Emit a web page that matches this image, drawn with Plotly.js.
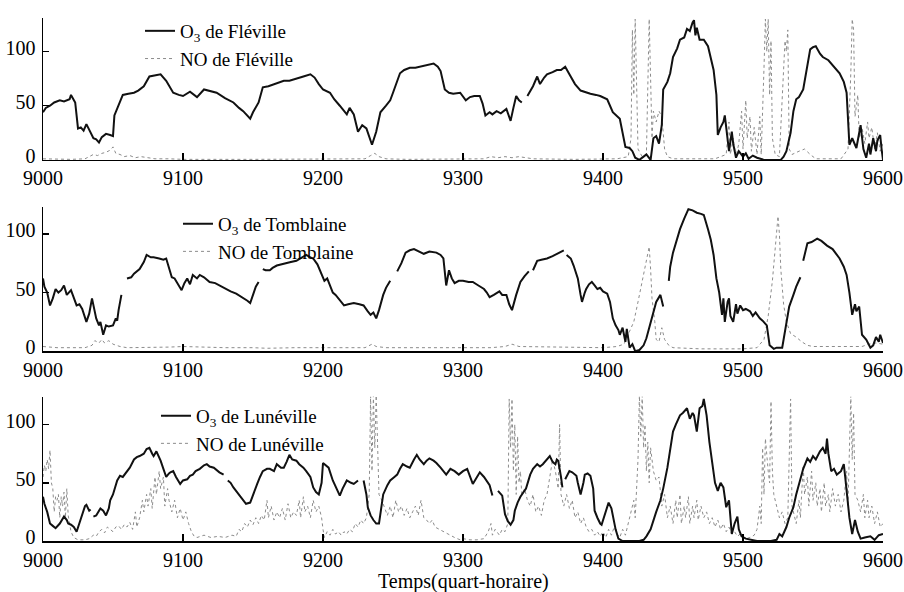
<!DOCTYPE html>
<html><head><meta charset="utf-8">
<script src="https://cdn.plot.ly/plotly-3.0.1.min.js"></script>
<style>body{margin:0;background:#fff}#c{width:904px;height:592px}</style>
</head><body><div id="c"></div>
<script>
// ---------- DATA ----------
const o3FlevX = [9000,9002,9005,9008,9012,9015,9019,9020,9023,9025,9027,9029,9031,9034,9036,9038,9040,9042,9045,9048,9050,9051,9054,9057,9061,9065,9068,9072,9076,9080,9084,9088,9093,9097,9100,9105,9110,9115,9120,9124,9130,9136,9140,9143,9148,9150,9154,9157,9161,9165,9169,9172,9176,9179,9183,9186,9191,9194,9197,9200,9205,9208,9212,9217,9219,9222,9225,9228,9231,9233,9235,9238,9241,9245,9248,9250,9253,9255,9258,9262,9266,9269,9274,9279,9282,9284,9287,9290,9293,9298,9302,9305,9308,9312,9314,9316,9319,9321,9324,9327,9331,9334,9336,9338,9340,9342,9344,9346,9350,9353,9355,9358,9360,9364,9367,9370,9373,9376,9380,9384,9388,9391,9395,9398,9403,9407,9412,9414,9416,9419,9421,9423,9426,9429,9431,9434,9436,9438,9440,9442,9443,9446,9448,9450,9453,9455,9458,9460,9462,9464,9465,9466,9467,9469,9472,9475,9477,9479,9481,9482,9484,9486,9487,9489,9490,9492,9493,9495,9497,9500,9502,9504,9507,9510,9512,9515,9520,9527,9529,9531,9534,9536,9538,9540,9543,9545,9548,9550,9552,9555,9557,9561,9565,9569,9572,9574,9576,9578,9581,9583,9584,9586,9588,9590,9591,9593,9595,9596,9598,9599,9600];
const o3FlevY = [44,48,50,53,55,54,56,60,53,29,30,27,33,26,20,19,16,21,24,23,22,41,50,60,61,62,64,68,77,78,79,73,62,60,59,63,58,65,63,62,57,53,48,45,38,44,53,67,68,70,72,73,73,74,76,77,79,76,70,65,62,56,50,42,48,42,26,32,29,22,14,26,44,50,55,62,72,80,83,85,85,86,87,89,86,82,65,62,61,62,55,58,59,59,52,41,44,42,45,43,47,36,48,59,55,53,null,59,68,77,70,76,79,81,83,83,86,79,70,64,62,61,60,59,56,44,38,25,12,11,8,2,0,3,5,0,20,22,15,32,65,72,80,95,103,111,113,121,119,127,129,115,122,111,111,105,95,83,60,23,30,35,41,20,8,26,15,2,8,3,6,1,4,2,1,0,0,0,3,8,25,45,56,58,65,80,102,104,105,98,95,92,86,80,72,62,14,20,11,25,32,10,2,15,5,20,8,18,23,10,0];
const noFlevX = [9000,9010,9020,9030,9033,9036,9039,9042,9045,9048,9050,9052,9055,9058,9062,9066,9070,9075,9080,9090,9100,9150,9200,9230,9234,9237,9240,9245,9260,9300,9315,9320,9325,9330,9335,9340,9345,9350,9380,9410,9418,9420,9421,9422,9423,9424,9425,9428,9431,9433,9434,9435,9436,9438,9440,9442,9444,9446,9450,9480,9488,9490,9491,9493,9495,9497,9499,9500,9502,9503,9505,9506,9508,9510,9512,9513,9515,9516,9517,9518,9519,9520,9521,9523,9526,9530,9531,9532,9533,9535,9540,9544,9548,9552,9570,9575,9577,9578,9579,9580,9582,9583,9585,9587,9589,9590,9592,9594,9596,9598,9600];
const noFlevY = [1,0.5,0.5,1,3,5,4,6,7,9,12,6,5,3,4,2,3,2,1,1,0.5,0.5,0.5,1,4,6,3,1,0.5,0.5,1,3,2,3,2,3,2,1,0.5,1,3,20,120,60,130,70,10,3,5,130,60,20,45,35,45,40,10,3,1,1,5,35,5,20,3,15,45,10,55,20,40,8,30,5,40,5,85,130,100,130,60,110,20,5,3,110,100,120,10,5,8,10,5,1,1,10,80,130,120,40,60,20,30,15,35,20,30,10,25,8,15];

const o3TombX = [9000,9001,9003,9005,9007,9009,9011,9013,9015,9017,9020,9022,9024,9026,9028,9031,9033,9035,9037,9038,9040,9041,9043,9045,9047,9050,9052,9053,9054,9056,9058,9060,9063,9065,9067,9069,9072,9074,9077,9079,9083,9086,9088,9090,9092,9094,9096,9099,9101,9103,9105,9107,9110,9112,9115,9119,9123,9126,9130,9134,9138,9141,9143,9146,9148,9150,9152,9154,9156,9157,9159,9162,9164,9167,9170,9174,9177,9181,9184,9188,9191,9193,9196,9198,9201,9203,9205,9207,9209,9211,9213,9215,9218,9222,9226,9229,9232,9234,9236,9238,9240,9243,9245,9248,9250,9253,9256,9259,9262,9265,9268,9272,9276,9281,9284,9286,9288,9290,9292,9294,9297,9300,9304,9307,9311,9315,9317,9319,9322,9326,9328,9331,9333,9335,9338,9341,9344,9347,9349,9350,9353,9356,9360,9364,9367,9370,9372,9373,9374,9377,9379,9381,9382,9384,9385,9387,9388,9390,9392,9394,9396,9398,9400,9403,9405,9407,9409,9411,9412,9414,9416,9417,9418,9419,9421,9423,9426,9429,9431,9434,9436,9438,9441,9443,9445,9447,9448,9450,9453,9455,9458,9461,9464,9467,9470,9472,9475,9477,9479,9481,9483,9485,9486,9487,9489,9490,9491,9493,9495,9496,9498,9500,9502,9505,9507,9509,9512,9514,9517,9519,9522,9524,9528,9531,9533,9536,9538,9541,9542,9543,9546,9549,9553,9556,9560,9564,9569,9572,9574,9576,9578,9580,9581,9583,9585,9588,9591,9593,9595,9597,9598,9600];
const o3TombY = [62,55,50,39,45,53,50,52,56,48,52,45,39,40,36,25,32,45,35,28,22,25,14,22,21,22,28,26,35,48,null,62,63,66,68,70,76,82,80,80,79,78,79,70,63,62,58,52,58,62,57,65,62,65,63,59,58,56,54,51,49,47,45,43,41,48,55,59,null,70,69,69,71,73,74,75,76,77,79,82,80,79,74,68,60,62,56,50,48,45,42,39,40,41,40,39,34,31,33,28,35,48,54,60,null,68,75,84,86,87,85,83,85,84,82,79,56,69,62,58,60,60,59,59,56,53,50,46,48,51,48,48,40,35,48,59,64,68,null,69,77,78,79,81,83,85,86,null,82,79,73,66,62,48,42,50,53,57,59,56,53,54,51,49,42,28,22,18,14,20,8,19,10,3,6,0,1,5,11,25,34,42,48,38,null,60,72,84,96,104,113,121,120,118,117,116,104,95,82,62,50,31,45,25,42,45,30,25,40,32,39,35,36,34,30,33,28,26,22,5,2,3,3,25,38,48,55,63,null,77,92,93,96,94,90,87,79,72,65,50,31,40,34,38,14,10,3,5,12,8,14,7];
const noTombX = [9000,9010,9020,9030,9035,9037,9040,9042,9044,9047,9050,9055,9060,9080,9090,9100,9110,9130,9150,9160,9180,9200,9220,9230,9235,9238,9245,9270,9300,9320,9330,9335,9340,9360,9380,9400,9410,9415,9419,9422,9425,9428,9431,9433,9434,9435,9437,9438,9440,9442,9444,9447,9450,9470,9500,9510,9515,9518,9521,9523,9525,9526,9527,9529,9531,9534,9538,9542,9546,9550,9570,9585,9590,9595,9600];
const noTombY = [4,3,3,3,5,9,7,10,7,9,6,4,3,3,3.5,4,3.5,3,3,2.5,3,3,3,3,6,4,3,3,3,3,4,6,4,3.5,3,3,4,6,17,25,42,60,75,89,70,45,25,10,8,20,10,5,3,2,2,3,10,30,60,90,115,100,70,40,25,15,12,8,5,4,4,4,6,7,6];

const o3LunX = [9000,9001,9003,9005,9007,9009,9012,9015,9017,9018,9020,9022,9024,9026,9028,9030,9031,9033,9034,9035,9036,9038,9041,9043,9045,9047,9048,9050,9053,9055,9057,9060,9062,9065,9067,9069,9072,9074,9076,9078,9079,9081,9083,9084,9086,9088,9090,9091,9093,9095,9098,9100,9103,9105,9107,9109,9112,9115,9117,9119,9122,9124,9126,9129,9130,9132,9134,9136,9138,9140,9143,9145,9148,9150,9153,9155,9157,9160,9162,9165,9167,9170,9172,9174,9176,9178,9181,9183,9186,9188,9191,9193,9195,9197,9199,9200,9202,9204,9207,9210,9212,9214,9217,9220,9222,9225,9227,9229,9231,9232,9234,9236,9238,9240,9242,9243,9246,9248,9251,9253,9255,9257,9260,9262,9265,9267,9269,9272,9274,9276,9279,9281,9284,9286,9288,9291,9294,9297,9300,9303,9305,9307,9310,9312,9315,9317,9319,9321,9323,9325,9328,9330,9332,9334,9336,9337,9339,9341,9343,9345,9348,9350,9353,9355,9357,9360,9362,9364,9366,9367,9368,9370,9371,9372,9373,9375,9376,9378,9381,9382,9384,9386,9387,9389,9391,9393,9394,9396,9398,9399,9401,9403,9404,9406,9407,9409,9411,9414,9418,9422,9426,9429,9431,9434,9436,9438,9441,9443,9446,9448,9450,9452,9455,9457,9460,9462,9464,9465,9467,9469,9471,9472,9474,9476,9479,9480,9482,9484,9486,9488,9490,9492,9494,9496,9497,9499,9502,9505,9510,9515,9520,9524,9526,9528,9531,9533,9536,9538,9541,9543,9546,9548,9550,9552,9555,9557,9559,9560,9561,9563,9565,9567,9570,9572,9573,9574,9576,9578,9580,9582,9584,9587,9591,9594,9597,9600];
const o3LunY = [38,32,25,15,13,11,15,21,18,15,14,12,8,15,23,30,31,26,27,null,21,22,28,26,22,28,35,40,52,56,55,60,63,70,72,73,75,79,80,75,73,77,72,69,62,55,58,59,60,55,49,52,53,56,57,60,62,65,66,64,63,61,59,57,null,52,50,46,43,40,35,32,33,40,49,55,60,62,62,60,66,63,63,68,74,70,69,66,63,60,55,46,42,40,50,67,65,63,52,45,39,45,52,50,49,52,null,52,40,29,22,18,15,15,30,40,48,52,55,57,62,66,64,63,70,74,70,66,69,71,69,67,63,60,57,62,60,57,60,62,56,49,55,59,55,52,48,39,null,43,39,23,17,14,18,26,33,38,42,45,57,62,66,64,66,70,73,68,66,70,69,55,46,null,53,58,60,59,56,50,40,50,57,58,56,45,26,20,15,14,22,30,33,28,21,10,2,0,0,0,0,1,4,10,18,25,35,45,63,78,94,100,108,110,114,105,110,108,94,114,116,122,108,85,57,50,43,50,46,29,35,6,15,21,10,4,2,1,0,0,0,1,6,4,12,20,29,40,52,62,71,68,73,70,77,80,75,88,75,60,62,57,60,66,55,43,20,6,18,8,2,3,4,1,5,6];
const noLunX = [9000,9001,9002,9003,9004,9005,9006,9007,9008,9009,9010,9011,9012,9013,9014,9015,9016,9017,9018,9019,9020,9022,9025,9030,9033,9036,9038,9040,9042,9044,9046,9048,9050,9052,9054,9056,9058,9060,9062,9064,9066,9067,9069,9071,9072,9074,9075,9077,9078,9080,9081,9083,9084,9086,9087,9089,9090,9092,9094,9096,9098,9100,9102,9104,9106,9108,9110,9115,9120,9125,9130,9135,9138,9140,9142,9144,9146,9148,9150,9152,9154,9156,9158,9160,9161,9163,9165,9167,9169,9171,9173,9175,9177,9179,9181,9183,9184,9186,9187,9189,9191,9193,9195,9197,9199,9200,9201,9203,9205,9207,9209,9211,9213,9215,9217,9219,9221,9223,9225,9227,9229,9231,9233,9234,9235,9236,9237,9238,9239,9240,9242,9244,9246,9248,9250,9252,9254,9256,9258,9260,9262,9264,9266,9268,9270,9272,9274,9276,9278,9280,9283,9286,9290,9294,9298,9300,9305,9310,9315,9318,9320,9321,9323,9326,9328,9330,9332,9333,9334,9335,9336,9337,9338,9339,9340,9341,9342,9344,9346,9348,9350,9352,9354,9356,9358,9360,9362,9364,9366,9368,9369,9370,9372,9374,9376,9378,9380,9382,9384,9386,9388,9390,9392,9394,9396,9398,9400,9402,9404,9406,9408,9410,9412,9414,9416,9418,9420,9422,9423,9424,9425,9426,9427,9428,9429,9430,9431,9432,9433,9434,9436,9438,9440,9442,9444,9446,9448,9450,9452,9453,9455,9456,9458,9459,9461,9462,9464,9465,9467,9468,9470,9472,9474,9476,9478,9480,9482,9484,9486,9488,9490,9492,9494,9496,9498,9500,9502,9505,9508,9510,9512,9513,9514,9515,9516,9518,9519,9520,9521,9522,9524,9526,9528,9530,9532,9534,9535,9536,9538,9540,9541,9543,9544,9546,9547,9549,9550,9552,9553,9555,9556,9558,9559,9561,9562,9564,9566,9568,9570,9572,9574,9575,9577,9578,9579,9580,9582,9584,9586,9587,9589,9590,9592,9594,9596,9598,9600];
const noLunY = [55,65,60,70,62,78,50,45,25,38,35,40,20,38,30,42,20,45,22,15,8,3,1,1,2,5,4,8,10,7,12,10,8,12,13,10,14,12,16,10,25,12,20,35,25,40,30,45,28,55,40,60,45,55,30,45,35,25,35,20,28,18,25,15,8,4,3,5,3,4,3,5,4,10,8,15,12,18,14,20,15,22,18,35,20,30,18,25,20,28,18,32,20,25,22,35,20,38,25,30,20,35,25,30,20,10,3,8,5,10,6,8,5,8,6,10,8,15,12,18,15,20,40,125,60,125,80,125,70,40,35,28,22,30,20,35,25,30,22,28,20,25,30,22,35,20,18,15,18,12,10,8,5,3,1,2,1,1,2,8,15,5,10,5,10,8,15,122,80,122,60,100,40,90,50,60,40,45,35,30,40,25,30,22,35,40,55,70,60,45,100,40,30,40,28,35,20,25,15,20,12,8,10,5,8,4,8,3,10,5,12,6,3,10,5,15,25,35,20,40,70,125,90,125,80,100,60,85,50,80,60,52,55,30,40,20,30,15,35,20,40,15,30,20,38,15,30,20,35,18,30,20,25,15,20,12,18,10,15,8,12,6,8,4,6,3,2,3,5,10,30,15,80,40,88,60,50,120,60,40,30,20,25,15,20,122,30,25,15,35,20,65,40,55,30,60,35,50,30,45,25,50,30,40,25,45,30,40,25,35,60,30,125,70,110,40,35,25,40,20,35,20,30,15,25,12,15];

const xTicks = [9000,9100,9200,9300,9400,9500,9600];
const yTicks = [0,50,100];
const legendNames = [
  ["O<sub>3</sub> de Fléville","NO de Fléville"],
  ["O<sub>3</sub> de Tomblaine","NO de Tomblaine"],
  ["O<sub>3</sub> de Lunéville","NO de Lunéville"]
];
const xTitle = "Temps(quart-horaire)";

// ---------- PLOT ----------
const FONT = "Liberation Serif, Times New Roman, serif";
const o3Line = {color:"#111", width:2};
const noLine = {color:"#8c8c8c", width:1, dash:"dot"};
const series = [[o3FlevX,o3FlevY,noFlevX,noFlevY],[o3TombX,o3TombY,noTombX,noTombY],[o3LunX,o3LunY,noLunX,noLunY]];
const traces = [];
series.forEach((s,i)=>{
  const ax = i===0?"":String(i+1);
  const lg = i===0?"legend":"legend"+(i+1);
  traces.push({x:s[2],y:s[3],type:"scatter",mode:"lines",line:noLine,name:legendNames[i][1],xaxis:"x"+ax,yaxis:"y"+ax,legend:lg,connectgaps:false,legendrank:2});
  traces.push({x:s[0],y:s[1],type:"scatter",mode:"lines",line:o3Line,name:legendNames[i][0],xaxis:"x"+ax,yaxis:"y"+ax,legend:lg,connectgaps:false,legendrank:1});
});
const xBase = {range:[9000,9600],tickvals:xTicks,ticks:"inside",ticklen:7,tickwidth:1.5,tickcolor:"#000",showline:true,linecolor:"#000",linewidth:1.5,showgrid:false,zeroline:false,tickfont:{family:FONT,size:20,color:"#000"}};
const yBase = {tickvals:yTicks,ticks:"inside",ticklen:6,tickwidth:1.5,tickcolor:"#000",showline:true,linecolor:"#000",linewidth:1.5,showgrid:false,zeroline:false,tickfont:{family:FONT,size:20,color:"#000"},ticklabelstandoff:2,ticklabelshift:-4};
const legBase = {font:{family:FONT,size:19,color:"#000"},bgcolor:"rgba(0,0,0,0)",xanchor:"left",yanchor:"top",tracegroupgap:0,itemclick:false};
const layout = {
  width:904,height:592,paper_bgcolor:"#fff",plot_bgcolor:"#fff",
  margin:{l:43,r:21,t:12,b:51},showlegend:true,
  xaxis:Object.assign({},xBase,{anchor:"y"}),
  xaxis2:Object.assign({},xBase,{anchor:"y2"}),
  xaxis3:Object.assign({},xBase,{anchor:"y3"}),
  yaxis:Object.assign({},yBase,{range:[0,131],domain:[0.7287,1],anchor:"x"}),
  yaxis2:Object.assign({},yBase,{range:[0,123],domain:[0.3629,0.6389],anchor:"x2"}),
  yaxis3:Object.assign({},yBase,{range:[0,124],domain:[0,0.276],anchor:"x3"}),
  legend:Object.assign({},legBase,{x:0.1155,y:1.0115}),
  legend2:Object.assign({},legBase,{x:0.1607,y:0.6428}),
  legend3:Object.assign({},legBase,{x:0.1345,y:0.2757}),
  annotations:[{text:xTitle,xref:"paper",yref:"paper",x:0.5,y:-0.078,xanchor:"center",yanchor:"middle",showarrow:false,font:{family:FONT,size:20,color:"#000"}}]
};
Plotly.newPlot("c",traces,layout,{displayModeBar:false,staticPlot:true});
</script></body></html>
